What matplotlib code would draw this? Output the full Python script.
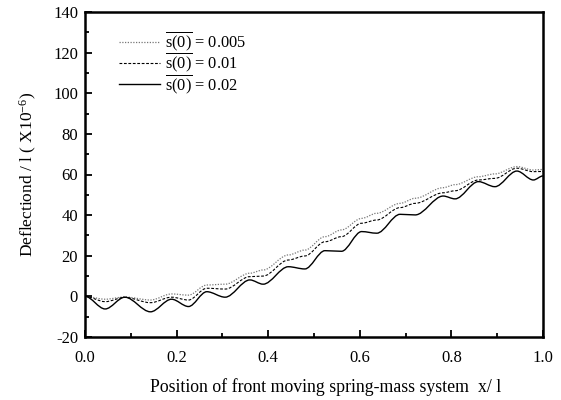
import matplotlib
matplotlib.use("Agg")
import matplotlib.pyplot as plt
from matplotlib.path import Path
from matplotlib.patches import PathPatch
from matplotlib.lines import Line2D
from matplotlib.ticker import MultipleLocator, FormatStrFormatter

plt.rcParams["font.family"] = ["Liberation Serif", "DejaVu Serif"]
plt.rcParams["mathtext.fontset"] = "custom"
plt.rcParams["mathtext.rm"] = "Liberation Serif"
plt.rcParams["mathtext.it"] = "Liberation Serif:italic"
plt.rcParams["axes.unicode_minus"] = False

# turning points of each deflection curve (x/l, deflection x 1e-6)
x_pts = [0.0, 0.044, 0.087, 0.143, 0.189, 0.226, 0.266, 0.306, 0.360, 0.389,
         0.444, 0.480, 0.524, 0.560, 0.604, 0.637, 0.688, 0.721, 0.782, 0.808,
         0.859, 0.895, 0.943, 0.979, 1.0]
s005 = [0.0, -1.4, -0.3, -1.8, 1.2, 0.6, 5.6, 6.0, 11.4, 13.0,
        20.4, 22.8, 29.4, 32.7, 38.4, 40.9, 45.8, 48.3, 53.5, 55.0,
        58.9, 60.3, 63.9, 62.2, 62.5]
s010 = [0.0, -2.6, -0.5, -3.1, -0.4, -1.8, 4.0, 3.6, 9.7, 10.0,
        17.9, 19.9, 26.9, 29.4, 36.0, 37.6, 43.7, 45.8, 51.0, 52.0,
        57.3, 58.1, 63.1, 61.4, 61.5]
s020 = [0.0, -6.2, -0.4, -7.6, -1.4, -5.0, 2.3, -0.4, 8.1, 6.0,
        14.6, 13.5, 22.5, 22.2, 31.9, 31.1, 40.4, 40.1, 49.4, 48.0,
        56.5, 54.0, 61.7, 57.3, 59.3]

labels = [r"$\overline{\mathrm{s(0)}}$ = 0.005",
          r"$\overline{\mathrm{s(0)}}$ = 0.01",
          r"$\overline{\mathrm{s(0)}}$ = 0.02"]


def smooth_path(xs, ys):
    # cubic segments with flat tangents at every turning point
    verts = [(xs[0], ys[0])]
    codes = [Path.MOVETO]
    for i in range(1, len(xs)):
        dx = xs[i] - xs[i - 1]
        verts += [(xs[i - 1] + dx / 3, ys[i - 1]),
                  (xs[i] - dx / 3, ys[i]),
                  (xs[i], ys[i])]
        codes += [Path.CURVE4] * 3
    return Path(verts, codes)


fig = plt.figure(figsize=(5.61, 4.0), dpi=100)
ax = fig.add_axes([0.1515, 0.1575, 0.8164, 0.8125])

styles = [
    dict(color="#777777", linestyle=(0, (1, 1.2)), linewidth=0.9),
    dict(color="black", linestyle=(0, (2.5, 1.5)), linewidth=0.8),
    dict(color="black", linestyle="-", linewidth=1.0),
]
handles = []
for ys, st, lab in zip([s005, s010, s020], styles, labels):
    ax.add_patch(PathPatch(smooth_path(x_pts, ys), fill=False, **st))
    handles.append(Line2D([], [], label=lab, **st))

ax.set_xlim(0, 1.0)
ax.set_ylim(-20, 140)
ax.xaxis.set_major_locator(MultipleLocator(0.2))
ax.xaxis.set_minor_locator(MultipleLocator(0.1))
ax.yaxis.set_major_locator(MultipleLocator(20))
ax.yaxis.set_minor_locator(MultipleLocator(10))
ax.xaxis.set_major_formatter(FormatStrFormatter("%.1f"))
ax.tick_params(which="both", direction="in", top=False, right=False,
               labelsize=12, width=1.3)
ax.tick_params(which="major", length=5)
ax.tick_params(which="minor", length=3)
ax.tick_params(axis="x", which="major", pad=9)
ax.tick_params(axis="y", which="major", pad=5)
for sp in ax.spines.values():
    sp.set_linewidth(1.8)

ax.set_xlabel("Position of front moving spring-mass system  x/ l",
              fontsize=12.8, labelpad=9)
ax.xaxis.set_label_coords(0.525, -0.125)
ax.set_ylabel(r"Deflectiond / l ( X10$^{-6}$)", fontsize=12.5, labelpad=10)

ax.legend(handles=handles, loc="upper left", bbox_to_anchor=(0.06, 0.965),
          frameon=False, fontsize=11.8, handlelength=2.5, handletextpad=0.3,
          labelspacing=-0.12, borderaxespad=0)

fig.savefig("out.png", dpi=100)
